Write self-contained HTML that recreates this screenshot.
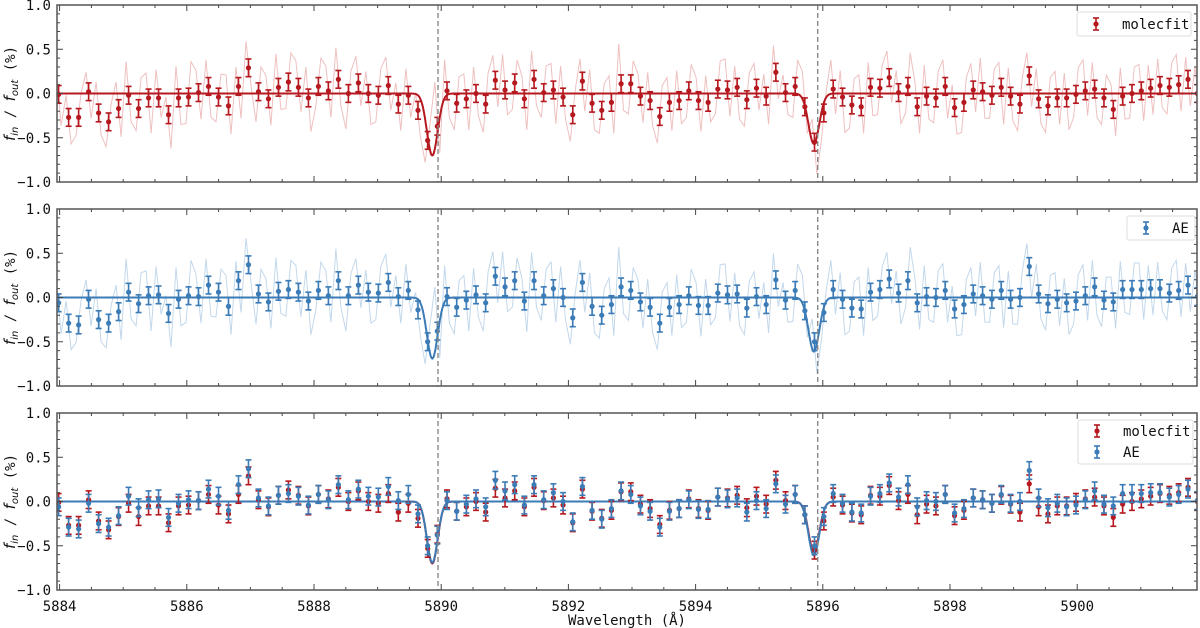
<!DOCTYPE html>
<html><head><meta charset="utf-8"><style>
html,body{margin:0;padding:0;background:#fff;}
svg{display:block;font-family:"DejaVu Sans Mono","Liberation Mono",monospace;}
</style></head><body>
<svg id="chart" width="1200" height="628" viewBox="0 0 1200 628" xmlns="http://www.w3.org/2000/svg">
<defs>
<clipPath id="c0"><rect x="57" y="5" width="1140" height="177"/></clipPath>
<clipPath id="c1"><rect x="57" y="209" width="1140" height="177"/></clipPath>
<clipPath id="c2"><rect x="57" y="413" width="1140" height="177"/></clipPath>
</defs>
</svg>
<script>
// ---- data ----
const binAnchorIdx = [0, 35, 77, 118];
const binAnchorWl = [5883.985, 5889.483, 5895.870, 5901.889];
const molecfitBins = [-0.01,-0.27,-0.27,0.02,-0.22,-0.32,-0.17,-0.02,-0.17,-0.05,-0.05,-0.24,-0.05,-0.04,0.01,0.08,-0.04,-0.14,0.08,0.29,0.02,-0.06,0.07,0.13,0.07,-0.05,0.08,0.03,0.16,0.0,0.12,0.0,-0.02,0.09,-0.12,
-0.02,-0.19,-0.53,-0.37,0.03,-0.11,-0.06,0.0,-0.12,0.15,0.04,0.12,-0.06,0.16,0.01,0.04,-0.04,-0.24,0.14,-0.11,-0.19,-0.10,0.11,0.11,-0.03,-0.08,-0.26,-0.10,-0.08,0.03,-0.08,-0.10,0.05,0.04,0.07,-0.07,0.06,-0.03,0.24,0.01,0.08,-0.15,-0.55,
-0.22,0.05,-0.04,-0.13,-0.15,0.07,0.06,0.18,0.01,0.08,-0.15,-0.03,-0.05,0.08,-0.16,-0.10,0.04,0.02,-0.02,0.07,-0.03,-0.12,0.20,-0.06,-0.14,-0.05,-0.05,-0.01,0.03,0.05,-0.05,-0.18,-0.03,0.0,0.03,0.06,0.09,0.07,0.10,0.16,0.0];
const aeBins = [-0.06,-0.29,-0.31,-0.02,-0.25,-0.29,-0.16,0.06,-0.07,0.02,0.03,-0.18,-0.02,0.02,0.01,0.14,0.06,-0.10,0.19,0.37,0.04,-0.05,0.07,0.09,0.06,-0.04,0.08,0.02,0.19,0.02,0.14,0.06,0.05,0.17,0.01,
0.08,-0.14,-0.50,-0.38,0.01,-0.11,-0.03,0.03,-0.06,0.24,0.12,0.19,-0.04,0.19,0.02,0.10,0.0,-0.23,0.17,-0.10,-0.20,-0.08,0.12,0.08,-0.05,-0.11,-0.29,-0.11,-0.08,0.02,-0.09,-0.09,0.05,0.03,0.04,-0.12,0.01,-0.08,0.20,-0.03,0.08,-0.15,-0.50,
-0.17,0.09,-0.02,-0.12,-0.13,0.06,0.09,0.21,0.05,0.19,-0.06,0.01,0.0,0.08,-0.13,-0.08,0.04,0.02,-0.02,0.08,-0.02,0.0,0.35,0.04,-0.07,-0.02,-0.06,-0.04,0.02,0.12,-0.03,-0.05,0.09,0.09,0.09,0.10,0.10,0.05,0.08,0.14,0.01];
const errBar = 0.10;
const rawResidual = [0.30,-0.35,0.25,-0.30,-0.20,0.28,0.22,-0.30,0.35,-0.25,-0.28,0.20,0.30,-0.32,0.38,-0.30,-0.25,0.35,0.28,-0.40,
0.32,-0.22,0.20,-0.38,0.36,-0.30,-0.30,0.40,0.25,-0.30,0.30,-0.35,-0.28,0.26,0.35,-0.32,0.22,-0.36,0.30,-0.20,
-0.34,0.28,0.26,-0.30,0.38,-0.25,-0.30,0.33,0.30,-0.28,0.35,-0.38,-0.22,0.32,0.28,-0.30,0.36,-0.30,-0.40,0.25,
0.30,-0.26,0.25,-0.35,-0.30,0.30,0.32,-0.28,0.24,-0.30,0.30,-0.25,0.20,-0.30,-0.25,0.20,0.50,-0.30,0.35,-0.30,
-0.30,0.30,0.28,-0.35,0.30,-0.25,-0.32,0.35,0.28,-0.30,0.40,-0.28,-0.30,0.26,0.25,-0.35,0.32,-0.30,-0.28,0.30,
0.30,-0.38,0.35,-0.25,-0.30,0.28,0.25,-0.34,0.38,-0.30,-0.26,0.30,0.30,-0.35,0.45,-0.30,-0.34,0.26,0.25,-0.30,
0.32,-0.28,-0.30,0.35,0.28,-0.32,0.34,-0.26,-0.30,0.30,0.26,-0.35,0.30,-0.22,-0.28,0.32,0.35,-0.30,0.24,-0.36,
-0.30,0.30,0.28,-0.25,0.25,-0.32,0.30,-0.30,0.20,-0.25,-0.35,0.30,0.40,-0.30,0.26,-0.36,-0.30,0.25,0.33,-0.28,
0.30,-0.40,-0.26,0.30,0.36,-0.30,0.28,-0.32,-0.30,0.26,0.30,-0.28,0.25,-0.35,-0.30,0.38,0.28,-0.30,0.35,-0.26,
-0.28,0.30,0.30,-0.36,0.26,-0.30,-0.34,0.28,0.30,-0.25,0.38,-0.30,-0.26,0.30,0.28,-0.42,0.32,-0.28,-0.30,0.30,
0.26,-0.35,0.34,-0.28,-0.30,0.32,0.30,-0.30,0.28,-0.36,-0.26,0.30,0.35,-0.28,0.30,-0.32,-0.30,0.26,0.28,-0.30,
0.32,-0.26,-0.28,0.30,0.30,-0.34,0.26,-0.30,0.30,-0.25,-0.30,0.28,0.34,-0.30,0.25,-0.30,0.30,-0.20];
const lineCenters = [5889.86, 5895.86];
const molecfitDepths = [0.70, 0.57];
const aeDepths = [0.69, 0.61];
const lineSigma = 0.085;
const markerLines = [5889.95, 5895.92];
const xTicks = [5884,5886,5888,5890,5892,5894,5896,5898,5900];
const yTicks = [1.0,0.5,0.0,-0.5,-1.0];
const yTickLabels = ["1.0","0.5","0.0","\u22120.5","\u22121.0"];

// ---- geometry ----
const L=57, R=1197, H=177, tops=[5,209,413];
const X0=5890, XPX=441.2, XS=63.6;
const RED="#b5191f", BLUE="#3b7bb6", RAWRED="#efc0c0", RAWBLUE="#c3d8eb";
const svg=document.getElementById('chart');
const NS="http://www.w3.org/2000/svg";
function xs(w){return XPX+(w-X0)*XS;}
function ys(v,p){return tops[p]+H/2-v*(H/2);}
function mk(tag,attrs,parent){const e=document.createElementNS(NS,tag);for(const k in attrs)e.setAttribute(k,attrs[k]);(parent||svg).appendChild(e);return e;}

const wl=[];
for(let s=0;s<binAnchorIdx.length-1;s++){
  const i0=binAnchorIdx[s],i1=binAnchorIdx[s+1];
  for(let i=i0;i<(s==binAnchorIdx.length-2?i1+1:i1);i++){
    wl.push(binAnchorWl[s]+(binAnchorWl[s+1]-binAnchorWl[s])*(i-i0)/(i1-i0));
  }
}
function model(w,depths){let v=0;for(let k=0;k<lineCenters.length;k++){v-=depths[k]*Math.exp(-0.5*Math.pow((w-lineCenters[k])/lineSigma,2));}return v;}

function drawRaw(p,bins,color,name){
  let d="";
  for(let i=0;i<bins.length;i++){
    const step=(i<bins.length-1?wl[i+1]-wl[i]:wl[i]-wl[i-1]);
    for(let j=0;j<2;j++){
      const w=wl[i]+(j==0?-0.25:0.25)*step;
      const v=bins[i]+rawResidual[2*i+j];
      d+=(d?"L":"M")+xs(w).toFixed(1)+","+ys(v,p).toFixed(1);
    }
  }
  const e=mk('path',{d:d,fill:"none",stroke:color,"stroke-width":1,"clip-path":"url(#c"+p+")"});
  
  
}
function drawModel(p,depths,color,name){
  let d="";
  for(let w=5883.9;w<=5902;w+=0.01){d+=(d?"L":"M")+xs(w).toFixed(1)+","+ys(model(w,depths),p).toFixed(1);}
  const e=mk('path',{d:d,fill:"none",stroke:color,"stroke-width":2,"clip-path":"url(#c"+p+")"});
  
  
}
function drawBins(p,bins,color,name){
  const g=mk('g',{stroke:color,fill:color,"clip-path":"url(#c"+p+")"});
  
  
  for(let i=0;i<bins.length;i++){
    const x=xs(wl[i]),y1=ys(bins[i]+errBar,p),y2=ys(bins[i]-errBar,p);
    mk('line',{x1:x,x2:x,y1:y1,y2:y2,"stroke-width":1.6},g);
    mk('line',{x1:x-3,x2:x+3,y1:y1,y2:y1,"stroke-width":1.6},g);
    mk('line',{x1:x-3,x2:x+3,y1:y2,y2:y2,"stroke-width":1.6},g);
    const c=mk('circle',{cx:x,cy:ys(bins[i],p),r:2.6,stroke:"none"},g);
    
    
  }
}
function drawAxes(p){
  const top=tops[p],bot=top+H;
  const g=mk('g',{});
  
  
  for(const w of markerLines){
    const l=mk('line',{x1:xs(w),x2:xs(w),y1:top,y2:bot,stroke:"#888","stroke-width":1.4,"stroke-dasharray":"5,3"},g);
    
    
  }
  let d="";
  for(let w=5884;w<=5901.9;w+=0.5){
    const x=xs(w),maj=Math.abs(w/2-Math.round(w/2))<1e-6,len=maj?6:3;
    d+="M"+x+","+bot+"v"+(-len)+"M"+x+","+top+"v"+len;
  }
  for(let k=-10;k<=10;k++){
    const y=ys(k/10,p),len=(k%5==0)?6:3;
    d+="M"+L+","+y+"h"+len+"M"+R+","+y+"h"+(-len);
  }
  mk('path',{d:d,stroke:"#444","stroke-width":1,fill:"none"},g);
  mk('rect',{x:L,y:top,width:R-L,height:H,fill:"none",stroke:"#555","stroke-width":1.5},g);
  for(let k=0;k<yTicks.length;k++){
    const t=mk('text',{x:51,y:ys(yTicks[k],p)+5,"text-anchor":"end","font-size":14,fill:"#111"},g);
    t.textContent=yTickLabels[k];
    
    
  }
  const yl=mk('text',{transform:"translate(15,"+(top+H/2)+") rotate(-90)","text-anchor":"middle","font-size":14,fill:"#111"},g);
  
  
  yl.innerHTML='<tspan font-family="DejaVu Sans, sans-serif" font-style="italic" font-size="15">f</tspan><tspan font-family="DejaVu Sans, sans-serif" font-style="italic" font-size="10" dy="3">in</tspan><tspan dy="-3">  /  </tspan><tspan font-family="DejaVu Sans, sans-serif" font-style="italic" font-size="15">f</tspan><tspan font-family="DejaVu Sans, sans-serif" font-style="italic" font-size="10" dy="3">out</tspan><tspan dy="-3">  (%)</tspan>';
}
function legendEntry(x,y,color,label){
  const g=mk('g',{});
  
  
  mk('line',{x1:x,x2:x,y1:y-6,y2:y+6,stroke:color,"stroke-width":1.6},g);
  mk('line',{x1:x-3,x2:x+3,y1:y-6,y2:y-6,stroke:color,"stroke-width":1.6},g);
  mk('line',{x1:x-3,x2:x+3,y1:y+6,y2:y+6,stroke:color,"stroke-width":1.6},g);
  mk('circle',{cx:x,cy:y,r:2.6,fill:color},g);
  const t=mk('text',{x:x+26,y:y+5,"font-size":14,fill:"#111"},g);
  t.textContent=label;
}
function legendBox(x,y,w,h,name){
  const r=mk('rect',{x:x,y:y,width:w,height:h,rx:2,fill:"#fff","fill-opacity":0.85,stroke:"#ddd","stroke-width":1});
  
  
}

// panel 1
drawRaw(0,molecfitBins,RAWRED,'molecfit-raw-spectrum');
drawModel(0,molecfitDepths,RED,'molecfit-model-fit');
drawBins(0,molecfitBins,RED,'molecfit-binned-points');
drawAxes(0);
legendBox(1077,12,114,24,'legend-panel-1');
legendEntry(1096,24,RED,'molecfit');
// panel 2
drawRaw(1,aeBins,RAWBLUE,'ae-raw-spectrum');
drawModel(1,aeDepths,BLUE,'ae-model-fit');
drawBins(1,aeBins,BLUE,'ae-binned-points');
drawAxes(1);
legendBox(1127,216,68,24,'legend-panel-2');
legendEntry(1146,228,BLUE,'AE');
// panel 3
drawModel(2,molecfitDepths,RED,'molecfit-model-fit-compare');
drawModel(2,aeDepths,BLUE,'ae-model-fit-compare');
drawBins(2,molecfitBins,RED,'molecfit-binned-points-compare');
drawBins(2,aeBins,BLUE,'ae-binned-points-compare');
drawAxes(2);
legendBox(1078,420,115,44,'legend-panel-3');
legendEntry(1097,431,RED,'molecfit');
legendEntry(1097,452,BLUE,'AE');

// x tick labels
for(const w of xTicks){
  const t=mk('text',{x:xs(w),y:611,"text-anchor":"middle","font-size":14,fill:"#111"});
  t.textContent=String(w);
  
  
}
const xt=mk('text',{x:627,y:625,"text-anchor":"middle","font-size":14,fill:"#111"});
xt.textContent="Wavelength (\u00c5)";


</script>
</body></html>
